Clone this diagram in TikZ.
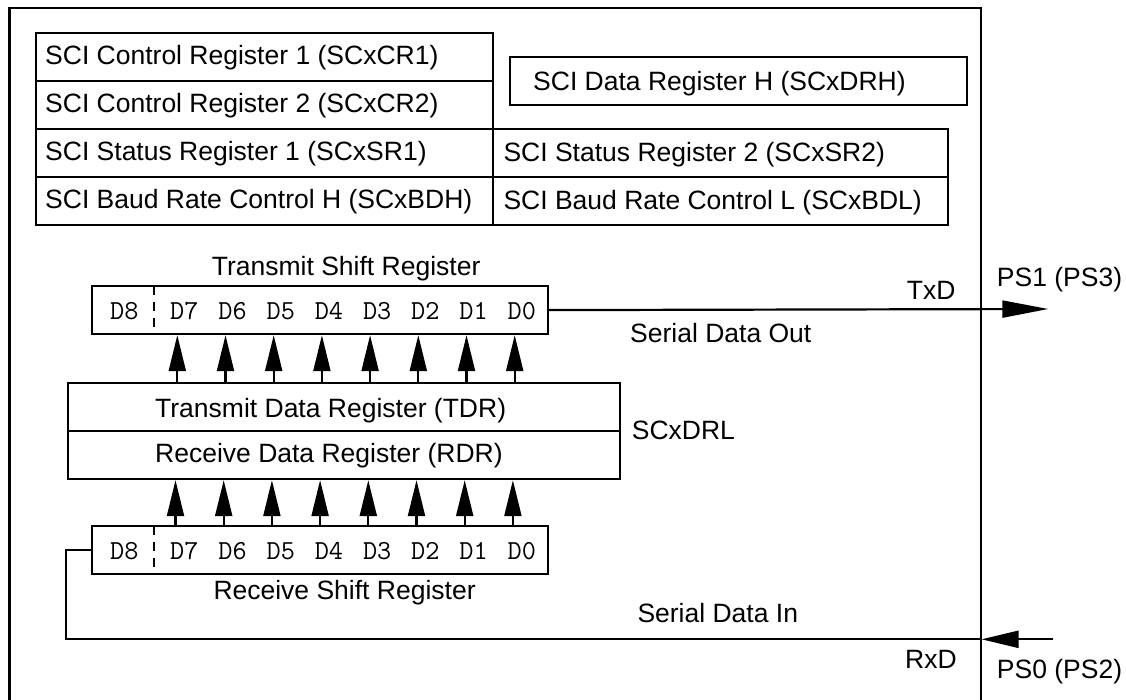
\documentclass[tikz,border=0pt]{standalone}
\usepackage{fontspec}
\setmainfont{Liberation Sans}
\usetikzlibrary{arrows.meta}
\begin{document}
\begin{tikzpicture}[x=1pt,y=-1pt,
  font=\fontsize{26.5}{30}\selectfont,
  regbox/.style={draw, line width=2.2pt, anchor=north west, inner sep=0pt, minimum height=48pt},
  lbl/.style={anchor=base west, inner sep=0pt},
  dlbl/.style={anchor=base west, inner sep=0pt, font=\ttfamily\fontsize{27.5}{30}\selectfont},
  wire/.style={line width=2.2pt},
  frameline/.style={line width=2.5pt},
  divider/.style={line width=2.2pt, dash pattern=on 9pt off 7pt, dash phase=-1pt},
  uparrow/.style={line width=2.2pt, -{Triangle[length=36pt,width=17pt]}},
  txarrow/.style={line width=2.2pt, -{Triangle[length=46pt,width=17pt]}},
  rxarrow/.style={line width=2.2pt, -{Triangle[length=37pt,width=17pt]}},
]
\useasboundingbox (0,0) rectangle (1126,700);
\fill[white] (0,0) rectangle (1126,700);

% outer frame (bottom edge lies outside the picture)
\coordinate (fbl) at (9.5,702);
\coordinate (ftl) at (9.5,8);
\coordinate (ftr) at (981,8);
\coordinate (fbr) at (981,702);
\draw[frameline] (fbl) -- (ftl) -- (ftr) -- (fbr);

% register block
\node[regbox, minimum width=457pt] (cr1) at (34.5,32) {};
\node[regbox, minimum width=457pt] (cr2) at (34.5,80) {};
\node[regbox, minimum width=457pt] (sr1) at (34.5,128) {};
\node[regbox, minimum width=457pt] (bdh) at (34.5,176) {};
\node[regbox, minimum width=455.5pt] (sr2) at (491.5,128) {};
\node[regbox, minimum width=455.5pt] (bdl) at (491.5,176) {};
\node[regbox, minimum width=457pt] (drh) at (509,56) {};

\node[lbl] (cr1t) at (45,65) {SCI Control Register 1 (SCxCR1)};
\node[lbl] (cr2t) at (45,113) {SCI Control Register 2 (SCxCR2)};
\node[lbl] (sr1t) at (45,161) {SCI Status Register 1 (SCxSR1)};
\node[lbl] (bdht) at (45,209) {SCI Baud Rate Control H (SCxBDH)};
\node[lbl] (sr2t) at (503.3,161.5) {SCI Status Register 2 (SCxSR2)};
\node[lbl] (bdlt) at (503.3,209.5) {SCI Baud Rate Control L (SCxBDL)};
\node[lbl] (drht) at (533,90.7) {SCI Data Register H (SCxDRH)};

% transmit shift register
\node[lbl] (tsrt) at (211.7,275.5) {Transmit Shift Register};
\node[regbox, minimum width=456pt] (tsr) at (91,285) {};
\coordinate (tdash) at (154.3,285);
\draw[divider] (tdash) -- (tdash |- tsr.south);
\node[dlbl] (t8) at (110,319.5) {D8};
\foreach \n [count=\i from 0] in {7,6,5,4,3,2,1,0} {
  \node[dlbl] (t\n) at (170+48.2*\i,319.5) {D\n};
  \coordinate (ta\n) at (177.3+48.2*\i,333);
}

% data registers
\node[regbox, minimum width=552pt] (tdr) at (67,382) {};
\node[regbox, minimum width=552pt] (rdr) at (67,430) {};
\node[lbl] (tdrt) at (155,417.7) {Transmit Data Register (TDR)};
\node[lbl] (rdrt) at (155,462.3) {Receive Data Register (RDR)};
\node[lbl] (drl) at (631.7,439) {SCxDRL};

\foreach \n in {7,6,5,4,3,2,1,0} {
  \draw[uparrow] (ta\n |- tdr.north) -- (ta\n |- tsr.south);
}

% receive shift register
\node[regbox, minimum width=456pt] (rsr) at (91,525) {};
\coordinate (rdash) at (154.3,525);
\draw[divider] (rdash) -- (rdash |- rsr.south);
\node[dlbl] (r8) at (110,559.5) {D8};
\foreach \n [count=\i from 0] in {7,6,5,4,3,2,1,0} {
  \node[dlbl] (r\n) at (170+48.2*\i,559.5) {D\n};
  \coordinate (ra\n) at (175.5+48.2*\i,525);
  \draw[uparrow] (ra\n) -- (ra\n |- rdr.south);
}
\node[lbl] (rsrt) at (213.3,599.3) {Receive Shift Register};

% serial out
\coordinate (txend) at (1048.3,309);
\draw[txarrow] (tsr.east) -- (txend);
\node[lbl] (sdo) at (630,342.7) {Serial Data Out};
\node[lbl] (txd) at (906.7,300) {TxD};
\node[lbl] (ps1) at (996.7,286.7) {PS1 (PS3)};

% serial in
\coordinate (rxstart) at (1053.3,639.3);
\coordinate (rxtip) at (981.5,639.3);
\coordinate (rxcorner) at (66,639.3);
\draw[rxarrow] (rxstart) -- (rxtip);
\draw[wire] (rxtip) -- (rxcorner) -- (rxcorner |- rsr.west) -- (rsr.west);
\node[lbl] (sdi) at (637.3,622.7) {Serial Data In};
\node[lbl] (rxd) at (905,668.3) {RxD};
\node[lbl] (ps0) at (996.7,678.3) {PS0 (PS2)};
\end{tikzpicture}
\end{document}
